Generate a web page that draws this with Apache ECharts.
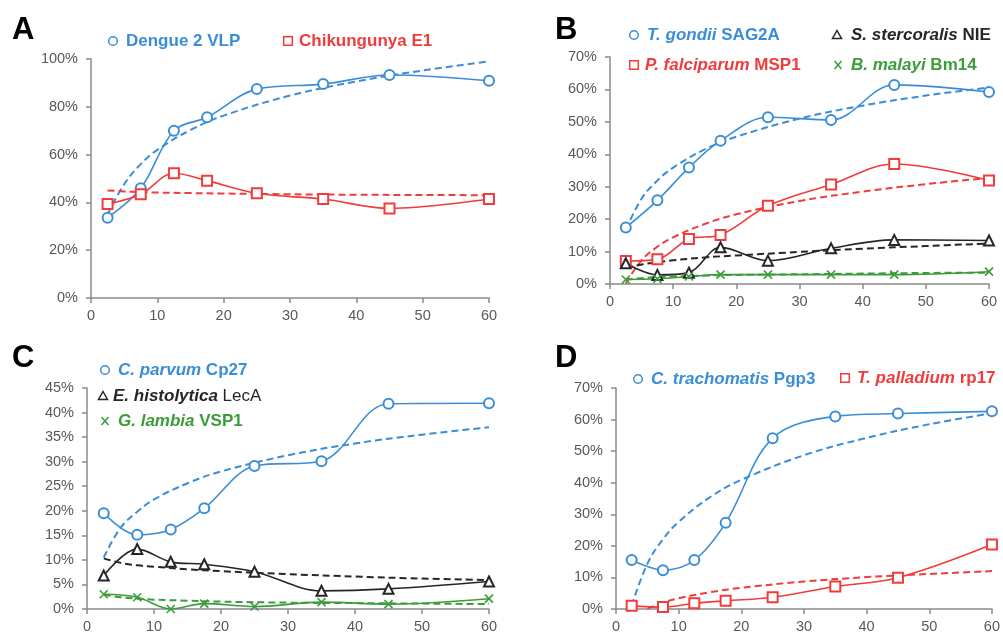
<!DOCTYPE html>
<html>
<head>
<meta charset="utf-8">
<script src="https://cdn.jsdelivr.net/npm/echarts@6/dist/echarts.min.js"></script>
<style>
  html, body { margin: 0; padding: 0; background: #fff; }
  #chart { width: 1003px; height: 634px; }
</style>
</head>
<body>
<div id="chart"></div>
<script>
// Sampling times (x) shared by every measured series
const DAYS = [2.5, 7.5, 12.5, 17.5, 25, 35, 45, 60];
// Positions at which the fitted trend curves are drawn
const FIT_DAYS = [2.5, 5, 7.5, 10, 15, 20, 30, 40, 50, 60];
const X_TICKS = { min: 0, max: 60, interval: 10 };

// Panel A
const dengueVLP = [33.6, 45.9, 70.0, 75.6, 87.4, 89.5, 93.3, 90.9];
const dengueFit = [35, 47.6, 56.0, 62.0, 70.3, 76.3, 84.7, 90.6, 95.2, 99.0];
const chikE1 = [39.3, 43.4, 52.2, 49.1, 43.8, 41.4, 37.5, 41.4];
const chikFit = [45.0, 44.6, 44.3, 44.1, 43.9, 43.7, 43.4, 43.2, 43.1, 43.0];

// Panel B
const gondiiSAG2A = [17.4, 25.8, 35.9, 44.2, 51.4, 50.6, 61.4, 59.2];
const gondiiFit = [16.7, 26.3, 31.9, 35.9, 41.5, 45.4, 51.0, 55.0, 58.1, 60.6];
const falciparumMSP1 = [7.1, 7.6, 13.9, 15.1, 24.1, 30.7, 37.0, 31.9];
const falciparumFit = [0.2, 7.3, 11.5, 14.4, 18.5, 21.5, 25.6, 28.5, 30.8, 32.7];
const stercoralisNIE = [6.4, 2.8, 3.5, 11.3, 7.2, 11.0, 13.6, 13.4];
const stercoralisFit = [5.0, 6.0, 6.7, 7.3, 8.2, 8.8, 9.9, 10.9, 11.7, 12.5];
const malayiBm14 = [1.4, 1.6, 2.3, 2.9, 2.9, 2.9, 2.9, 3.8];
const malayiFit = [1.3, 1.8, 2.1, 2.3, 2.6, 2.8, 3.0, 3.2, 3.4, 3.5];

// Panel C
const parvumCp27 = [19.5, 15.1, 16.2, 20.5, 29.1, 30.1, 41.8, 41.9];
const parvumFit = [10.5, 16.5, 19.8, 22.3, 25.6, 28.0, 31.3, 33.7, 35.5, 37.0];
const histolyticaLecA = [6.8, 12.2, 9.6, 9.1, 7.6, 3.7, 4.1, 5.6];
const histolyticaFit = [10.3, 9.4, 8.9, 8.6, 8.1, 7.7, 7.1, 6.6, 6.2, 5.9];
const lambiaVSP1 = [3.0, 2.4, 0.0, 1.1, 0.5, 1.4, 1.0, 2.1];
const lambiaFit = [2.9, 2.4, 2.1, 1.9, 1.7, 1.5, 1.3, 1.2, 1.1, 1.0];

// Panel D
const trachomatisPgp3 = [15.5, 12.3, 15.5, 27.3, 54.1, 61.0, 61.9, 62.6];
const trachomatisFit = [1.0, 14.3, 22.1, 27.6, 35.4, 40.9, 48.7, 54.2, 58.5, 62.0];
const palladiumRp17 = [1.0, 0.6, 1.8, 2.6, 3.7, 7.1, 9.9, 20.4];
const palladiumFit = [null, 0.1, 2.0, 3.4, 5.3, 6.7, 8.7, 10.1, 11.1, 12.0];

// y-axis ranges per panel
const Y_RANGES = [
  { max: 100, interval: 20 },
  { max: 70, interval: 10 },
  { max: 45, interval: 5 },
  { max: 70, interval: 10 }
];

const BLUE = '#3a8ed8';
const RED = '#f23b3b';
const BLACK = '#262626';
const GREEN = '#3a9d3a';
const AXIS = '#8a8a8a';
const LABEL = '#595959';
const FONT = '"Liberation Sans", Arial, sans-serif';
const KEY_SIZE = 17;
const CROSS = 'path://M0,0L10,10M10,0L0,10';

const grids = [
  { left: 91, right: 514, top: 59, bottom: 336 },
  { left: 610, right: 14, top: 57, bottom: 350 },
  { left: 87, right: 514, top: 388, bottom: 24 },
  { left: 616, right: 7, top: 388, bottom: 23 }
];

function pairs(xs, ys) {
  return xs.map((x, i) => [x, ys[i]]);
}

function measured(idx, name, values, color, symbol) {
  const cross = symbol === CROSS;
  return {
    type: 'line', name,
    xAxisIndex: idx, yAxisIndex: idx,
    data: pairs(DAYS, values),
    smooth: 0.35,
    symbol,
    symbolSize: cross ? 8 : 10,
    lineStyle: { color, width: 1.6 },
    itemStyle: cross
      ? { color: 'rgba(0,0,0,0)', borderColor: color, borderWidth: 1.6 }
      : { color, borderWidth: 1.4 },
    z: 4
  };
}

function fitted(idx, values, color) {
  return {
    type: 'line',
    xAxisIndex: idx, yAxisIndex: idx,
    data: pairs(FIT_DAYS, values),
    smooth: 0.4,
    symbol: 'none',
    lineStyle: { color, width: 2, type: [7, 4] },
    z: 3
  };
}

const xAxes = grids.map((g, i) => ({
  type: 'value', gridIndex: i,
  min: X_TICKS.min, max: X_TICKS.max, interval: X_TICKS.interval,
  axisLine: { show: true, lineStyle: { color: AXIS, width: 1.5 } },
  axisTick: { show: true, length: 5, lineStyle: { color: AXIS, width: 1.5 } },
  axisLabel: { color: LABEL, fontSize: 14.5, fontFamily: FONT, margin: 10 },
  splitLine: { show: false }
}));

const yAxes = Y_RANGES.map((r, i) => ({
  type: 'value', gridIndex: i,
  min: 0, max: r.max, interval: r.interval,
  axisLine: { show: true, lineStyle: { color: AXIS, width: 1.5 } },
  axisTick: { show: true, length: 5, lineStyle: { color: AXIS, width: 1.5 } },
  axisLabel: { color: LABEL, fontSize: 14.5, fontFamily: FONT, margin: 13, formatter: '{value}%' },
  splitLine: { show: false }
}));

const series = [
  fitted(0, dengueFit, BLUE),
  fitted(0, chikFit, RED),
  measured(0, 'Dengue 2 VLP', dengueVLP, BLUE, 'emptyCircle'),
  measured(0, 'Chikungunya E1', chikE1, RED, 'emptyRect'),

  fitted(1, gondiiFit, BLUE),
  fitted(1, falciparumFit, RED),
  fitted(1, stercoralisFit, BLACK),
  fitted(1, malayiFit, GREEN),
  measured(1, 'T. gondii SAG2A', gondiiSAG2A, BLUE, 'emptyCircle'),
  measured(1, 'P. falciparum MSP1', falciparumMSP1, RED, 'emptyRect'),
  measured(1, 'S. stercoralis NIE', stercoralisNIE, BLACK, 'emptyTriangle'),
  measured(1, 'B. malayi Bm14', malayiBm14, GREEN, CROSS),

  fitted(2, parvumFit, BLUE),
  fitted(2, histolyticaFit, BLACK),
  fitted(2, lambiaFit, GREEN),
  measured(2, 'C. parvum Cp27', parvumCp27, BLUE, 'emptyCircle'),
  measured(2, 'E. histolytica LecA', histolyticaLecA, BLACK, 'emptyTriangle'),
  measured(2, 'G. lambia VSP1', lambiaVSP1, GREEN, CROSS),

  fitted(3, trachomatisFit, BLUE),
  fitted(3, palladiumFit, RED),
  measured(3, 'C. trachomatis Pgp3', trachomatisPgp3, BLUE, 'emptyCircle'),
  measured(3, 'T. palladium rp17', palladiumRp17, RED, 'emptyRect')
];

// Legend keys: small hollow marker followed by the label
function marker(kind, cx, cy, color) {
  const st = { fill: 'none', stroke: color, lineWidth: 1.5 };
  if (kind === 'circle') return { type: 'circle', shape: { cx, cy, r: 4.3 }, style: st };
  if (kind === 'rect') return { type: 'rect', shape: { x: cx - 4.3, y: cy - 4.3, width: 8.6, height: 8.6 }, style: st };
  if (kind === 'triangle') return { type: 'polygon', shape: { points: [[cx, cy - 4.5], [cx + 4.5, cy + 3.5], [cx - 4.5, cy + 3.5]] }, style: st };
  return {
    type: 'group', children: [
      { type: 'line', shape: { x1: cx - 3.5, y1: cy - 4, x2: cx + 3.5, y2: cy + 4 }, style: { stroke: color, lineWidth: 1.5 } },
      { type: 'line', shape: { x1: cx + 3.5, y1: cy - 4, x2: cx - 3.5, y2: cy + 4 }, style: { stroke: color, lineWidth: 1.5 } }
    ]
  };
}

function key(kind, mx, tx, y, color, text) {
  return [
    marker(kind, mx, y, color),
    {
      type: 'text', x: tx, y,
      style: {
        text, fill: color, font: 'bold ' + KEY_SIZE + 'px ' + FONT,
        verticalAlign: 'middle', align: 'left',
        rich: {
          i: { fontStyle: 'italic', fontWeight: 'bold', fontSize: KEY_SIZE, fontFamily: FONT, fill: color },
          b: { fontWeight: 'bold', fontSize: KEY_SIZE, fontFamily: FONT, fill: color },
          r: { fontWeight: 'normal', fontSize: KEY_SIZE, fontFamily: FONT, fill: color }
        }
      }
    }
  ];
}

function panelLetter(letter, x, y) {
  return {
    type: 'text', x, y,
    style: { text: letter, font: 'bold 31px ' + FONT, fill: '#000', verticalAlign: 'middle' }
  };
}

const graphic = [
  panelLetter('A', 12, 30),
  panelLetter('B', 555, 30),
  panelLetter('C', 12, 358),
  panelLetter('D', 555, 358),
  ...key('circle', 113, 126, 41, BLUE, '{b|Dengue 2 VLP}'),
  ...key('rect', 288, 299, 41, RED, '{b|Chikungunya E1}'),
  ...key('circle', 634, 647, 35, BLUE, '{i|T. gondii} {b|SAG2A}'),
  ...key('triangle', 837, 851, 35, BLACK, '{i|S. stercoralis} {b|NIE}'),
  ...key('rect', 634, 645, 65, RED, '{i|P. falciparum} {b|MSP1}'),
  ...key('cross', 838, 851, 65, GREEN, '{i|B. malayi} {b|Bm14}'),
  ...key('circle', 105, 118, 370, BLUE, '{i|C. parvum} {b|Cp27}'),
  ...key('triangle', 103, 113, 396, BLACK, '{i|E. histolytica} {r|LecA}'),
  ...key('cross', 105, 118, 421, GREEN, '{i|G. lambia} {b|VSP1}'),
  ...key('circle', 638, 651, 379, BLUE, '{i|C. trachomatis} {b|Pgp3}'),
  ...key('rect', 845, 857, 378, RED, '{i|T. palladium} {b|rp17}')
];

const chart = echarts.init(document.getElementById('chart'), null, { renderer: 'canvas' });
chart.setOption({
  animation: false,
  backgroundColor: '#fff',
  grid: grids,
  xAxis: xAxes,
  yAxis: yAxes,
  series,
  graphic
});
</script>
</body>
</html>
